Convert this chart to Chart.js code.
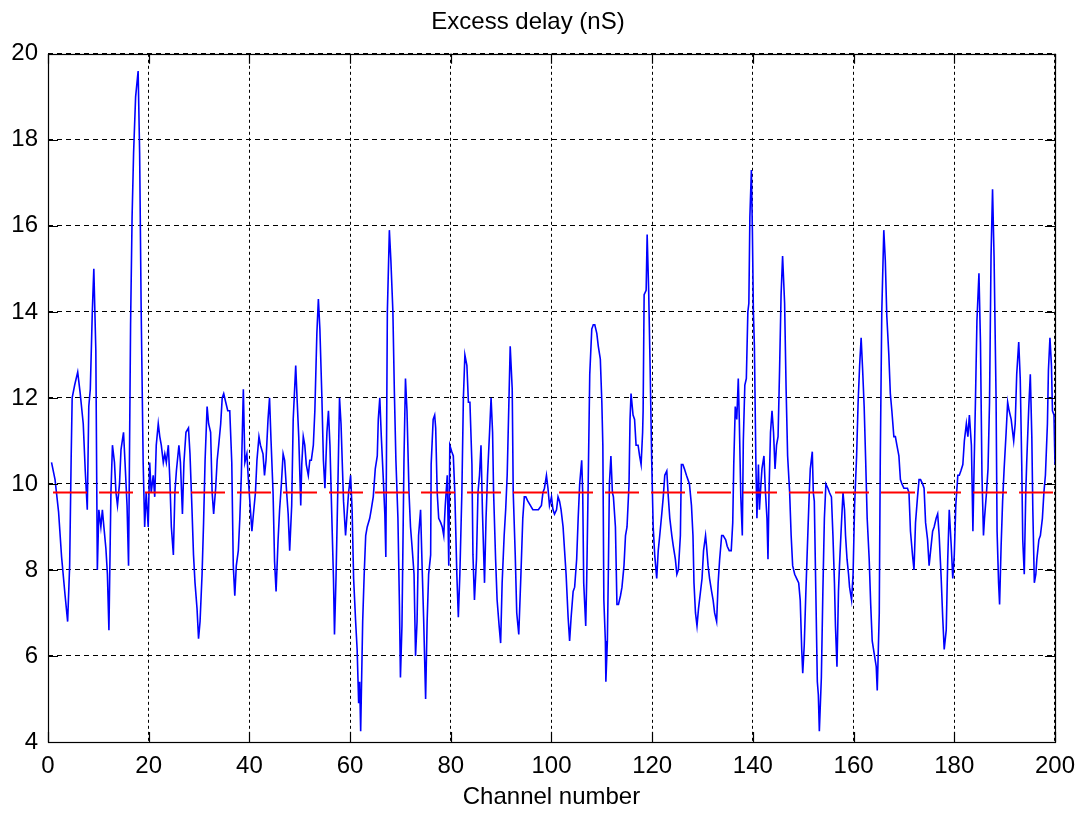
<!DOCTYPE html>
<html>
<head>
<meta charset="utf-8">
<script src="https://cdn.jsdelivr.net/npm/chart.js@4"></script>
<style>
  html, body { margin: 0; padding: 0; background: #fff; }
  #wrap { width: 1085px; height: 814px; }
</style>
</head>
<body>
<div id="wrap"><canvas id="delayChart" width="1085" height="814"></canvas></div>
<script>
// channel positions of the samples
var channels = [
  0.7,1.4,2.1,2.7,3.4,3.9,4.3,4.6,4.8,5.3,5.9,6.4,7.0,7.4,7.8,8.1,8.4,8.8,9.1,9.5,
  9.8,10.1,10.5,10.8,11.1,11.5,11.8,12.1,12.5,12.8,13.2,13.5,13.8,14.2,14.5,15.0,15.3,15.7,16.0,16.4,
  16.7,17.0,17.4,17.9,18.2,18.5,18.9,19.2,19.5,19.9,20.2,20.5,20.9,21.2,21.5,21.9,22.2,22.5,22.9,23.2,
  23.5,23.9,24.2,24.5,24.9,25.2,25.5,26.0,26.3,26.7,27.0,27.4,27.9,28.2,28.6,28.9,29.2,29.6,29.9,30.2,
  30.6,30.9,31.2,31.6,31.9,32.3,32.6,32.9,33.3,33.6,33.9,34.3,34.6,34.9,35.3,35.7,36.1,36.5,36.8,37.1,
  37.4,37.8,38.1,38.4,38.8,39.1,39.5,39.8,40.2,40.5,40.8,41.2,41.5,41.9,42.2,42.7,43.0,43.3,43.7,44.0,
  44.3,44.7,45.0,45.3,45.7,46.0,46.3,46.7,47.0,47.4,47.7,48.0,48.4,48.7,49.2,49.5,49.8,50.2,50.4,50.7,
  51.0,51.3,51.7,52.0,52.3,52.7,53.0,53.4,53.7,54.0,54.4,54.7,55.0,55.4,55.7,56.0,56.4,56.7,56.9,57.2,
  57.6,57.9,58.2,58.5,58.7,59.1,59.4,59.7,60.1,60.4,60.7,61.1,61.4,61.7,61.9,62.1,62.5,62.8,63.1,63.4,
  63.9,64.2,64.6,65.0,65.4,65.6,65.9,66.2,66.6,66.9,67.1,67.4,67.8,68.1,68.5,68.8,69.1,69.5,69.8,70.0,
  70.3,70.7,71.0,71.3,71.7,72.0,72.3,72.7,73.0,73.3,73.6,74.0,74.3,74.6,75.0,75.3,75.6,76.0,76.1,76.5,
  76.8,77.0,77.3,77.6,78.0,78.3,78.6,78.9,79.3,79.6,79.8,80.2,80.5,80.8,81.2,81.5,81.8,82.2,82.5,82.8,
  83.2,83.5,83.8,84.2,84.4,84.7,85.1,85.4,85.7,86.0,86.3,86.7,87.0,87.3,87.7,88.0,88.3,88.5,88.9,89.2,
  89.6,89.9,90.2,90.6,90.9,91.2,91.6,91.8,92.2,92.4,92.8,93.1,93.5,93.9,94.3,94.6,94.9,95.3,95.8,96.3,
  97.0,97.4,98.0,98.3,98.6,99.0,99.3,99.6,100.0,100.3,100.6,101.0,101.3,101.6,101.9,102.3,102.6,102.9,103.3,103.6,
  103.9,104.3,104.6,105.0,105.3,105.6,106.0,106.2,106.4,106.8,107.0,107.3,107.6,108.0,108.3,108.6,109.0,109.3,109.7,110.0,
  110.2,110.4,110.7,110.8,111.1,111.3,111.5,111.8,112.1,112.3,112.7,113.0,113.3,113.7,114.0,114.4,114.7,115.0,115.4,115.6,
  115.8,116.2,116.5,116.8,117.2,117.5,117.8,118.1,118.2,118.4,118.8,119.0,119.3,119.6,119.9,120.2,120.5,120.9,121.2,121.5,
  121.9,122.2,122.5,122.9,123.2,123.5,123.9,124.2,124.6,124.9,125.2,125.6,125.8,126.1,126.4,126.8,127.1,127.4,127.8,128.1,
  128.3,128.6,128.9,129.2,129.5,129.9,130.2,130.6,130.8,131.1,131.4,131.8,132.1,132.4,132.8,133.1,133.4,133.8,134.1,134.6,
  134.9,135.3,135.7,136.0,136.2,136.5,136.8,137.1,137.3,137.6,137.9,138.1,138.4,138.7,139.0,139.2,139.4,139.7,139.9,140.1,
  140.3,140.6,140.8,141.1,141.3,141.6,141.8,142.2,142.5,142.8,143.0,143.2,143.5,143.8,144.1,144.4,144.7,145.0,145.3,145.6,
  145.9,146.3,146.6,146.9,147.3,147.6,147.9,148.3,148.7,149.1,149.4,149.7,149.9,150.2,150.5,150.8,151.2,151.4,151.8,152.0,
  152.2,152.5,152.8,153.0,153.2,153.6,153.9,154.2,154.5,154.9,155.2,155.6,155.9,156.2,156.4,156.7,157.0,157.2,157.6,157.9,
  158.2,158.4,158.7,159.0,159.2,159.6,159.9,160.2,160.6,160.9,161.2,161.5,161.8,162.1,162.4,162.7,163.1,163.4,163.7,164.1,
  164.5,164.7,165.1,165.3,165.6,166.0,166.3,166.6,167.0,167.3,167.6,168.0,168.3,168.6,169.0,169.3,169.6,170.0,170.3,170.7,
  171.0,171.3,171.7,172.0,172.3,172.7,173.0,173.3,173.7,174.0,174.3,174.7,175.0,175.3,175.7,176.0,176.4,176.7,177.0,177.4,
  177.7,178.0,178.4,178.7,179.0,179.4,179.7,180.0,180.3,180.7,181.0,181.3,181.7,182.0,182.4,182.7,183.0,183.4,183.6,183.7,
  183.9,184.2,184.5,184.9,185.2,185.5,185.8,186.0,186.4,186.7,187.0,187.3,187.6,187.9,188.3,188.5,188.8,189.0,189.3,189.6,
  189.9,190.3,190.6,190.9,191.3,191.6,191.8,192.1,192.4,192.8,193.1,193.4,193.6,193.9,194.2,194.4,194.8,195.1,195.4,195.6,
  195.9,196.2,196.4,196.8,197.1,197.5,197.8,198.1,198.5,198.7,199.0,199.3,199.5,199.8,200.0
];

// excess delay in nS for each sample above
var delays = [
  10.5,10.1,9.35,8.3,7.4,6.8,8.1,10.6,12.0,12.3,12.6,12.1,11.4,10.3,9.4,11.8,12.2,14.0,15.0,13.1,
  8.0,9.4,9.0,9.4,9.0,8.5,7.9,6.6,9.8,10.9,10.5,9.8,9.5,10.0,10.8,11.2,10.5,9.5,8.1,13.7,
  16.2,17.7,19.0,19.6,17.7,14.1,10.5,9.0,9.8,9.0,10.5,9.8,10.2,9.7,10.9,11.4,11.1,10.9,10.5,10.7,
  10.5,10.9,10.1,9.0,8.35,9.8,10.3,10.9,10.5,9.3,10.5,11.2,11.3,10.7,9.4,8.35,7.7,7.1,6.4,6.8,
  7.9,9.1,10.55,11.8,11.4,11.2,9.8,9.3,9.9,10.55,10.9,11.4,12.0,12.1,11.9,11.7,11.7,10.5,8.1,7.4,
  8.1,8.45,9.2,10.2,12.2,10.5,10.7,10.1,9.4,8.9,9.3,9.8,10.55,11.1,10.9,10.7,10.2,10.55,11.5,12.0,
  11.0,9.8,8.2,7.5,8.7,9.4,9.9,10.7,10.55,9.8,9.3,8.45,9.5,11.5,12.75,11.9,11.1,9.5,10.45,11.1,
  10.9,10.45,10.2,10.55,10.55,10.9,11.7,13.5,14.3,13.6,12.0,10.55,9.9,11.2,11.7,10.9,9.1,7.8,6.5,7.8,
  10.1,12.0,11.4,10.3,9.6,8.8,9.3,9.8,10.2,9.4,7.8,6.8,6.15,4.9,5.4,4.25,6.8,7.9,8.8,9.0,
  9.2,9.4,9.7,10.35,10.65,11.5,12.0,11.1,10.1,9.3,8.3,14.0,15.9,15.2,14.0,12.1,10.55,9.2,7.2,5.5,
  6.7,10.55,12.45,11.7,9.8,9.0,8.55,7.9,6.0,6.8,8.8,9.4,8.1,6.9,5.0,6.8,7.9,8.35,10.45,11.5,
  11.6,11.3,9.8,9.2,9.1,9.0,8.8,9.5,10.2,8.1,10.9,10.75,10.65,9.8,7.9,6.9,7.9,9.8,12.0,13.0,
  12.75,11.9,11.9,10.45,8.35,7.3,8.25,9.8,10.2,10.9,9.3,7.7,9.2,10.2,11.2,12.0,11.2,9.8,8.25,7.3,
  6.7,6.3,7.7,8.8,9.4,10.2,12.2,13.2,12.2,9.8,8.35,7.0,6.5,7.8,9.2,9.7,9.7,9.6,9.5,9.4,
  9.4,9.4,9.5,9.8,9.9,10.2,9.9,9.5,9.7,9.4,9.3,9.4,9.7,9.6,9.4,9.0,8.45,7.9,6.9,6.35,
  6.9,7.5,7.6,8.25,9.2,10.0,10.55,9.8,7.7,6.7,7.8,10.1,12.55,13.6,13.7,13.7,13.5,13.2,12.9,11.9,
  10.9,7.3,6.35,5.4,6.35,8.0,10.0,10.65,9.8,9.7,9.0,7.2,7.2,7.4,7.6,8.1,8.8,9.0,10.0,11.5,
  12.1,11.6,11.5,10.9,10.9,10.65,10.45,11.2,11.7,14.4,14.5,15.8,14.5,12.65,10.55,9.0,8.35,7.8,8.45,8.8,
  9.3,9.7,10.2,10.3,9.7,9.2,8.8,8.55,8.25,7.9,8.0,8.8,10.45,10.45,10.35,10.2,10.1,10.0,9.5,8.8,
  7.7,7.0,6.7,7.1,7.4,7.8,8.45,8.8,8.55,8.1,7.8,7.5,7.3,7.0,6.8,7.7,8.25,8.8,8.8,8.7,
  8.55,8.45,8.45,9.1,10.45,11.8,11.5,12.45,11.5,9.7,8.8,11.0,12.3,12.45,14.0,14.2,16.2,17.3,15.9,14.0,
  13.2,10.45,9.2,10.45,9.4,10.0,10.35,10.65,9.8,9.2,8.25,9.8,11.2,11.7,11.2,10.35,10.9,11.1,12.65,14.4,
  15.3,14.2,12.2,10.65,9.8,8.8,8.1,7.9,7.8,7.7,7.3,6.15,5.6,6.25,7.4,8.45,9.8,10.35,10.75,9.8,
  9.6,7.5,5.4,5.1,4.25,5.5,7.5,9.2,10.0,9.9,9.8,9.7,8.8,7.7,6.7,5.75,7.5,8.1,9.1,9.8,
  9.4,8.8,8.25,7.9,7.6,7.3,7.9,9.5,10.65,11.9,12.75,13.4,12.65,11.8,10.55,9.2,8.25,7.2,6.35,6.05,
  5.75,5.2,7.0,10.55,14.0,15.9,15.2,13.9,13.0,12.1,11.7,11.1,11.1,10.9,10.65,10.1,10.0,9.9,9.9,9.9,
  9.8,8.9,8.35,8.0,9.1,9.7,10.1,10.1,10.0,9.9,9.1,8.7,8.1,8.45,8.9,9.0,9.2,9.3,8.8,7.8,
  6.9,6.15,6.6,8.25,9.4,8.55,7.8,8.35,9.5,10.2,10.2,10.3,10.45,11.0,11.4,11.1,11.6,10.9,9.6,8.9,
  10.2,11.9,13.8,14.9,13.3,10.2,8.8,9.2,9.8,10.35,11.9,15.3,16.85,15.3,12.0,8.9,7.7,7.2,8.55,9.6,
  10.35,11.2,11.9,11.7,11.5,11.2,11.0,11.4,12.55,13.3,12.45,10.45,8.7,7.9,9.8,10.55,11.8,12.55,11.1,9.4,
  7.7,7.9,8.25,8.7,8.8,9.2,9.8,10.2,11.4,12.65,13.4,12.75,11.7,11.6,10.45
];

// mean delay shown as the red dashed line
var meanChannels = [1, 200];
var meanDelay = [9.8, 9.8];

var xTicks = [0, 20, 40, 60, 80, 100, 120, 140, 160, 180, 200];
var yTicks = [4, 6, 8, 10, 12, 14, 16, 18, 20];

var fontFamily = '"Liberation Sans", Arial, sans-serif';

function pairs(xs, ys) {
  return xs.map(function (x, i) { return { x: x, y: ys[i] }; });
}

// frame round the plot and inward tick marks, MATLAB style
var framePlugin = {
  id: 'frame',
  afterDatasetsDraw: function (chart) {
    var ctx = chart.ctx;
    var a = chart.chartArea;
    var xs = chart.scales.x, ys = chart.scales.y;
    var len = 10;
    ctx.save();
    ctx.strokeStyle = '#000';
    ctx.lineWidth = 1.2;
    ctx.setLineDash([]);
    ctx.beginPath();
    xs.ticks.forEach(function (t) {
      var px = Math.round(xs.getPixelForValue(t.value)) + 0.5;
      ctx.moveTo(px, a.bottom); ctx.lineTo(px, a.bottom - len);
      ctx.moveTo(px, a.top); ctx.lineTo(px, a.top + len);
    });
    ys.ticks.forEach(function (t) {
      var py = Math.round(ys.getPixelForValue(t.value)) + 0.5;
      ctx.moveTo(a.left, py); ctx.lineTo(a.left + len, py);
      ctx.moveTo(a.right, py); ctx.lineTo(a.right - len, py);
    });
    ctx.stroke();
    ctx.strokeRect(Math.round(a.left) + 0.5, Math.round(a.top) + 0.5,
      Math.round(a.right - a.left), Math.round(a.bottom - a.top));
    ctx.restore();
  }
};

var ctx = document.getElementById('delayChart').getContext('2d');
var myChart = new Chart(ctx, {
  type: 'line',
  data: {
    datasets: [{
      label: 'Excess delay',
      data: pairs(channels, delays),
      borderColor: '#0000ff',
      borderWidth: 1.6,
      pointRadius: 0,
      tension: 0,
      order: 2
    }, {
      label: 'Mean',
      data: pairs(meanChannels, meanDelay),
      borderColor: '#ff0000',
      borderWidth: 2,
      borderDash: [34, 12],
      pointRadius: 0,
      order: 1
    }]
  },
  plugins: [framePlugin],
  options: {
    responsive: false,
    animation: false,
    layout: { padding: { left: 0, right: 29, top: 0, bottom: 0 } },
    plugins: {
      legend: { display: false },
      tooltip: { enabled: false },
      title: {
        display: true,
        text: 'Excess delay (nS)',
        color: '#000',
        font: { family: fontFamily, size: 24, weight: 'normal' },
        padding: { top: 8, bottom: 17 }
      }
    },
    scales: {
      x: {
        type: 'linear',
        min: 0,
        max: 200,
        afterBuildTicks: function (scale) {
          scale.ticks = xTicks.map(function (v) { return { value: v }; });
        },
        afterFit: function (scale) { scale.height = 72; },
        ticks: {
          color: '#000',
          padding: 10,
          maxRotation: 0,
          font: { family: fontFamily, size: 24 }
        },
        grid: { color: '#000', lineWidth: 1, drawTicks: false },
        border: { display: false, dash: [3, 3] },
        title: {
          display: true,
          text: 'Channel number',
          color: '#000',
          font: { family: fontFamily, size: 24 },
          padding: { top: 2, bottom: 2 }
        }
      },
      y: {
        type: 'linear',
        min: 4,
        max: 20,
        afterBuildTicks: function (scale) {
          scale.ticks = yTicks.map(function (v) { return { value: v }; });
        },
        afterFit: function (scale) { scale.width = 48; },
        ticks: {
          color: '#000',
          padding: 10,
          font: { family: fontFamily, size: 24 }
        },
        grid: { color: '#000', lineWidth: 1, drawTicks: false },
        border: { display: false, dash: [5, 4] }
      }
    }
  }
});
</script>
</body>
</html>
